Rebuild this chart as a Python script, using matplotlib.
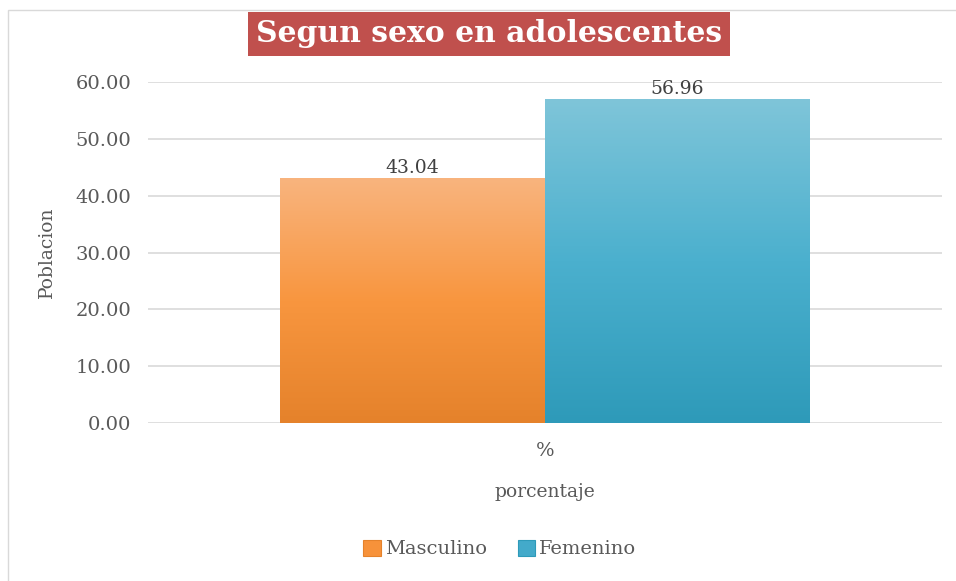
import matplotlib
matplotlib.use("Agg")
import matplotlib.pyplot as plt
import numpy as np
from matplotlib.colors import LinearSegmentedColormap
from matplotlib.patches import Rectangle

categories = ["%"]
series_names = ["Masculino", "Femenino"]
series_values = [43.04, 56.96]
y_ticks = [0, 10, 20, 30, 40, 50, 60]

grey = "#595959"
plt.rcParams["font.family"] = ["DejaVu Serif"]

fig = plt.figure(figsize=(9.56, 5.81), dpi=100)
ax = fig.add_axes([0.1548, 0.2719, 0.8306, 0.587])

# gradient colours (top -> bottom) for each series
gradients = [
    ["#F9B47E", "#F8963F", "#E5822B"],
    ["#7FC5D9", "#4BB0CE", "#2E9AB9"],
]
solid = ["#F7923A", "#43AACA"]

width = 1.0 / 3
offsets = [-width / 2, width / 2]
handles = []
for i, name in enumerate(series_names):
    x = offsets[i]
    v = series_values[i]
    bar = ax.bar(x, v, width, color="none", edgecolor="none", zorder=3)[0]
    cmap = LinearSegmentedColormap.from_list("g%d" % i, gradients[i][::-1])
    grad = np.linspace(0, 1, 256).reshape(-1, 1)
    im = ax.imshow(grad, cmap=cmap, aspect="auto", origin="lower",
                   extent=[x - width / 2, x + width / 2, 0, v], zorder=3)
    im.set_clip_path(bar)
    ax.annotate("%.2f" % v, (x, v), xytext=(0, 1), textcoords="offset points",
                ha="center", va="bottom", fontsize=13.5, color="#404040")
    handles.append(Rectangle((0, 0), 1, 1, facecolor=solid[i],
                             edgecolor=gradients[i][2], linewidth=0.8))

ax.set_xlim(-0.5, 0.5)
ax.set_ylim(0, 60)
ax.set_yticks(y_ticks)
ax.set_yticklabels(["%.2f" % t for t in y_ticks])
ax.set_xticks([0])
ax.set_xticklabels(categories)
ax.tick_params(axis="both", length=0, labelsize=14, colors=grey, pad=12)
ax.tick_params(axis="x", pad=14)
ax.grid(axis="y", color="#D9D9D9", linewidth=1.2, zorder=0)
for s in ax.spines.values():
    s.set_visible(False)

ax.set_ylabel("Poblacion", fontsize=13.5, color=grey, labelpad=14)
ax.set_xlabel("porcentaje", fontsize=13.5, color=grey, labelpad=16)

fig.text(0.5115, 0.942, "Segun sexo en adolescentes", ha="center", va="center",
         fontsize=21.5, fontweight="bold", color="white",
         bbox=dict(boxstyle="square,pad=0.25", facecolor="#C0504D",
                   edgecolor="none"))

fig.legend(handles, series_names, loc="center", bbox_to_anchor=(0.523, 0.055),
           ncol=2, frameon=False, fontsize=14, handlelength=0.9,
           handleheight=0.9, handletextpad=0.2, columnspacing=1.6,
           labelcolor=grey)

fig.patches.append(Rectangle((0.008, -0.01), 1.1, 0.993, transform=fig.transFigure,
                             fill=False, edgecolor="#D9D9D9", linewidth=1))

fig.savefig("out.png", dpi=100)
